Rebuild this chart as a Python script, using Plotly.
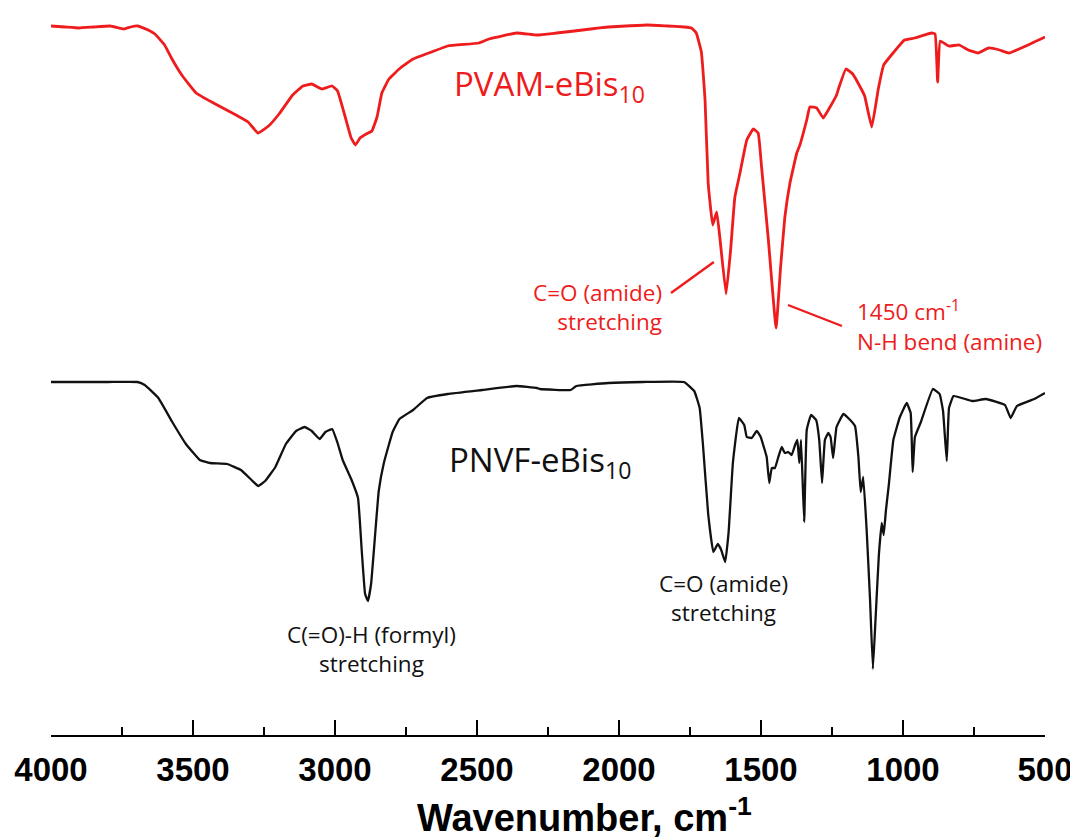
import plotly.graph_objects as go

# PVAM-eBis10 (red, upper trace): wavenumber (cm-1) and relative transmittance (a.u.)
pvam_wn = [4000, 3950, 3901, 3850, 3792, 3743, 3720, 3694, 3658, 3634, 3600, 3574, 3537, 3489,
           3428, 3355, 3306, 3271, 3234, 3197, 3149, 3113, 3082, 3046, 3010, 2991, 2967, 2943,
           2928, 2912, 2890, 2870, 2852, 2835, 2810, 2770, 2725, 2660, 2603, 2494, 2458, 2361,
           2289, 2220, 2157, 2100, 2037, 1976, 1900, 1830, 1770, 1745, 1728, 1710, 1697, 1686,
           1670, 1656, 1644, 1623, 1607, 1592, 1574, 1550, 1527, 1510, 1498, 1474, 1447, 1431,
           1416, 1398, 1374, 1363, 1351, 1339, 1328, 1304, 1281, 1257, 1234, 1225, 1201, 1177,
           1147, 1135, 1110, 1087, 1068, 1032, 995, 959, 899, 887, 878, 869, 839, 802, 770, 736,
           699, 660, 627, 560, 500]
pvam_t = [709, 708, 707, 708, 709, 706, 708, 709, 705, 701, 690, 676, 659, 642,
          632, 621, 613, 602, 609, 621, 640, 649, 651, 646, 649, 644, 621, 597,
          590, 597, 601, 604, 618, 642, 656, 667, 676, 683, 689, 692, 696, 702,
          700, 702, 704, 706, 708, 709, 710, 709, 708, 707, 702, 683, 635, 552,
          510, 523, 495, 441, 485, 538, 562, 595, 606, 602, 568, 495, 407, 468,
          518, 552, 582, 590, 602, 615, 628, 627, 617, 628, 640, 648, 666, 661,
          646, 639, 608, 646, 670, 683, 695, 697, 702, 701, 653, 694, 689, 690, 685, 682,
          687, 685, 682, 690, 698]

# PNVF-eBis10 (black, lower trace)
pnvf_wn = [4000, 3800, 3695, 3670, 3622, 3573, 3525, 3476, 3440, 3380, 3331, 3294, 3270, 3246,
           3210, 3173, 3137, 3107, 3082, 3054, 3034, 3010, 2991, 2973, 2943, 2919, 2906, 2894,
           2884, 2873, 2858, 2846, 2828, 2797, 2773, 2725, 2676, 2603, 2482, 2361, 2289, 2278,
           2170, 2150, 2037, 1916, 1771, 1735, 1716, 1704, 1686, 1668, 1652, 1640, 1626, 1614,
           1599, 1578, 1559, 1550, 1533, 1515, 1501, 1489, 1480, 1471, 1462, 1451, 1439, 1427,
           1416, 1404, 1392, 1380, 1372, 1365, 1359, 1348, 1339, 1324, 1306, 1295, 1285, 1275,
           1263, 1255, 1246, 1234, 1210, 1193, 1169, 1157, 1149, 1140, 1128, 1116, 1106, 1097,
           1085, 1075, 1068, 1060, 1050, 1034, 1011, 987, 973, 966, 958, 937, 895, 871, 859,
           846, 838, 822, 756, 708, 641, 621, 599, 538, 500]
pnvf_t = [353, 353, 353, 350, 337, 313, 291, 275, 272, 271, 265, 255, 249, 254,
          268, 291, 304, 308, 304, 296, 303, 306, 292, 275, 256, 237, 185, 141,
          134, 151, 203, 244, 272, 303, 316, 325, 337, 341, 345, 349, 347, 346,
          345, 349, 352, 353, 353, 344, 327, 289, 221, 183, 191, 185, 173, 203,
          272, 317, 310, 298, 297, 304, 298, 287, 278, 252, 267, 267, 278, 288,
          282, 283, 280, 290, 295, 272, 295, 213, 305, 320, 315, 295, 252, 295,
          302, 298, 277, 308, 321, 317, 309, 278, 243, 258, 205, 135, 66, 114,
          180, 212, 200, 225, 250, 295, 318, 332, 322, 263, 298, 313, 346, 341, 324,
          274, 327, 339, 334, 336, 330, 317, 329, 336, 342]

x_ticks = [4000, 3500, 3000, 2500, 2000, 1500, 1000, 500]
x_ticklabels = ["4000", "3500", "3000", "2500", "2000", "1500", "1000", "500"]

RED = "#ee1c1c"
BLACK = "#111111"
TEXT_FONT = "Open Sans"

fig = go.Figure()
fig.add_trace(go.Scatter(x=pvam_wn, y=pvam_t, mode="lines",
                         line=dict(color=RED, width=2.8, shape="spline", smoothing=0.3),
                         name="PVAM-eBis10", showlegend=False))
fig.add_trace(go.Scatter(x=pnvf_wn, y=pnvf_t, mode="lines",
                         line=dict(color=BLACK, width=2.3, shape="spline", smoothing=0.3),
                         name="PNVF-eBis10", showlegend=False))

ann = []
ann.append(dict(x=2588, y=650, xref="x", yref="y", text="PVAM-eBis<sub>10</sub>",
                showarrow=False, xanchor="left", yanchor="middle",
                font=dict(family=TEXT_FONT, size=33, color=RED)))
ann.append(dict(x=2605, y=274, xref="x", yref="y", text="PNVF-eBis<sub>10</sub>",
                showarrow=False, xanchor="left", yanchor="middle",
                font=dict(family=TEXT_FONT, size=33, color=BLACK)))
ann.append(dict(x=1842, y=428, xref="x", yref="y", text="C=O (amide)<br>stretching",
                showarrow=False, xanchor="right", yanchor="middle", align="right",
                font=dict(family=TEXT_FONT, size=22.5, color=RED)))
ann.append(dict(x=1168, y=410, xref="x", yref="y", text="1450 cm<sup>-1</sup><br>N-H bend (amine)",
                showarrow=False, xanchor="left", yanchor="middle", align="left",
                font=dict(family=TEXT_FONT, size=22.5, color=RED)))
ann.append(dict(x=2870, y=86, xref="x", yref="y", text="C(=O)-H (formyl)<br>stretching",
                showarrow=False, xanchor="center", yanchor="middle", align="center",
                font=dict(family=TEXT_FONT, size=22.5, color=BLACK)))
ann.append(dict(x=1632, y=137, xref="x", yref="y", text="C=O (amide)<br>stretching",
                showarrow=False, xanchor="center", yanchor="middle", align="center",
                font=dict(family=TEXT_FONT, size=22.5, color=BLACK)))
# axis title (placed as an annotation so it can sit right of centre, as in the original)
ann.append(dict(x=0.537, y=-0.110, xref="paper", yref="paper",
                text="Wavenumber, cm<sup>-1</sup>", showarrow=False,
                xanchor="center", yanchor="middle",
                font=dict(family="Liberation Sans", size=38, color="black", weight="bold")))

shapes = [
    dict(type="line", xref="x", yref="y", x0=1817, y0=442, x1=1666, y1=473,
         line=dict(color=RED, width=2.4)),
    dict(type="line", xref="x", yref="y", x0=1405, y0=430, x1=1215, y1=409,
         line=dict(color=RED, width=2.4)),
]

fig.update_layout(
    width=1078, height=840,
    margin=dict(l=43, r=41, t=0, b=113),
    paper_bgcolor="white", plot_bgcolor="white",
    annotations=ann, shapes=shapes,
    xaxis=dict(
        range=[4000, 500], tickmode="array", tickvals=x_ticks, ticktext=x_ticklabels,
        showgrid=False, zeroline=False, showline=True, linecolor="black", linewidth=2,
        ticks="inside", ticklen=15, tickwidth=2, tickcolor="black",
        minor=dict(ticks="inside", ticklen=8, tickwidth=2, tickcolor="black", dtick=250,
                   tick0=500, showgrid=False),
        tickfont=dict(family="Liberation Sans", size=33, color="black", weight="bold"),
        ticklabelstandoff=4,
    ),
    yaxis=dict(range=[0, 727], visible=False, showgrid=False, zeroline=False),
)

fig.write_html("out.html")
